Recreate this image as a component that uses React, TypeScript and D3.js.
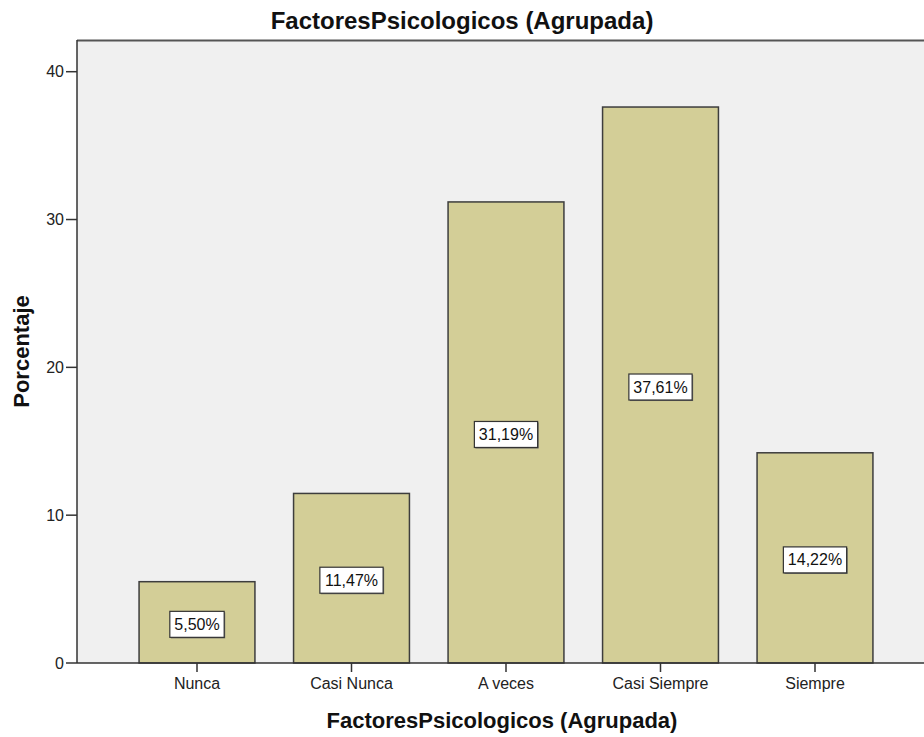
import React from "react";
import * as d3 from "d3";

const categories = ["Nunca", "Casi Nunca", "A veces", "Casi Siempre", "Siempre"];
const values = [5.5, 11.47, 31.19, 37.61, 14.22];
const labels = ["5,50%", "11,47%", "31,19%", "37,61%", "14,22%"];
const yTicks = [0, 10, 20, 30, 40];

const W = 924;
const H = 737;
const plotLeft = 77;
const plotTop = 40;
const plotBottom = 663;
const plotRight = 924;
const FONT = "'Liberation Sans', Arial, sans-serif";

export default function App() {
  const x = d3
    .scaleBand<string>()
    .domain(categories)
    .range([119.75, 892.25])
    .paddingInner(0.25)
    .paddingOuter(0.125);
  const y = d3.scaleLinear().domain([0, 40]).range([plotBottom, 71.7]);

  const labelFont = 16;

  return (
    <svg
      width={W}
      height={H}
      style={{ position: "absolute", left: 0, top: 0, background: "#fff" }}
      fontFamily={FONT}
    >
      <rect x={plotLeft} y={plotTop} width={plotRight - plotLeft} height={plotBottom - plotTop} fill="#f0f0f0" />
      <line x1={plotLeft} x2={plotRight} y1={plotTop + 0.5} y2={plotTop + 0.5} stroke="#555" strokeWidth={2} />

      {categories.map((c, i) => {
        const bx = x(c)!;
        const bw = x.bandwidth();
        const top = y(values[i]);
        const cx = bx + bw / 2;
        const cy = (top + y(0)) / 2 + 2;
        const tw = labels[i].length * 0 + labelFont * (labels[i].length === 5 ? 2.835 : 3.391);
        const boxW = tw + 9;
        const boxH = 26;
        return (
          <g key={c}>
            <rect x={bx} y={top} width={bw} height={y(0) - top} fill="#d3ce97" stroke="#3d3d3d" strokeWidth={1.5} />
            <rect x={cx - boxW / 2 + 1} y={cy - boxH / 2 + 1} width={boxW} height={boxH} fill="#666" />
            <rect x={cx - boxW / 2} y={cy - boxH / 2} width={boxW} height={boxH} fill="#fff" stroke="#333" strokeWidth={1.2} />
            <text x={cx} y={cy} textAnchor="middle" dominantBaseline="central" fontSize={labelFont} fill="#111">
              {labels[i]}
            </text>
          </g>
        );
      })}

      {/* Y axis */}
      <line x1={plotLeft} x2={plotLeft} y1={plotTop} y2={plotBottom} stroke="#333" strokeWidth={1.5} />
      {yTicks.map((t) => (
        <g key={t}>
          <line x1={66} x2={plotLeft} y1={y(t)} y2={y(t)} stroke="#333" strokeWidth={1.5} />
          <text x={64} y={y(t)} textAnchor="end" dominantBaseline="central" fontSize={16} fill="#222">
            {t}
          </text>
        </g>
      ))}

      {/* X axis */}
      <line x1={plotLeft} x2={plotRight} y1={plotBottom} y2={plotBottom} stroke="#333" strokeWidth={1.5} />
      {categories.map((c) => {
        const cx = x(c)! + x.bandwidth() / 2;
        return (
          <g key={c}>
            <line x1={cx} x2={cx} y1={plotBottom} y2={plotBottom + 9} stroke="#333" strokeWidth={1.5} />
            <text x={cx} y={689} textAnchor="middle" fontSize={16} fill="#222">
              {c}
            </text>
          </g>
        );
      })}

      <text x={462} y={29} textAnchor="middle" fontSize={24} fontWeight="bold" fill="#111">
        FactoresPsicologicos (Agrupada)
      </text>
      <text x={502} y={728} textAnchor="middle" fontSize={22} fontWeight="bold" fill="#111">
        FactoresPsicologicos (Agrupada)
      </text>
      <text
        transform={`translate(29, ${(plotTop + plotBottom) / 2}) rotate(-90)`}
        textAnchor="middle"
        fontSize={22}
        fontWeight="bold"
        fill="#111"
      >
        Porcentaje
      </text>
    </svg>
  );
}
